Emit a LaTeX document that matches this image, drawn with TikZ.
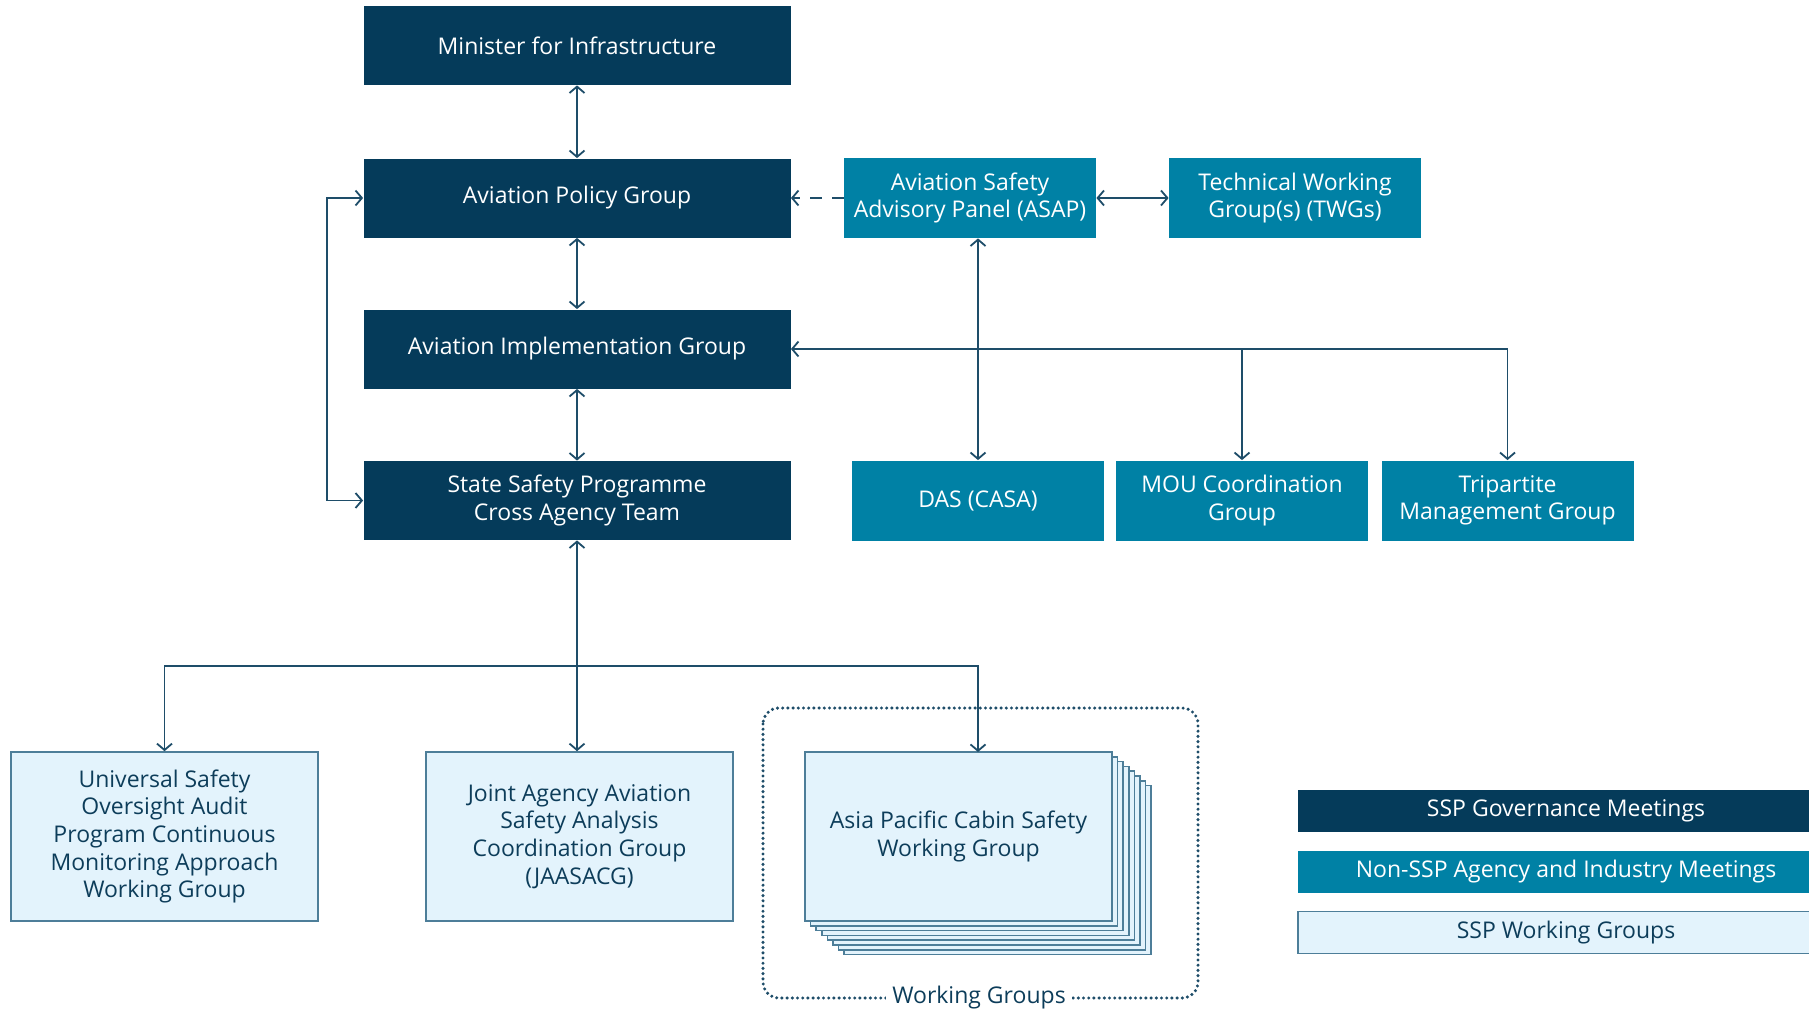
\documentclass[tikz,border=0pt]{standalone}
\usepackage{fontspec}
\setmainfont{Open Sans}
\usetikzlibrary{arrows.meta}
\definecolor{navy}{HTML}{053B5A}
\definecolor{tealb}{HTML}{0081A5}
\definecolor{lightb}{HTML}{E3F3FC}
\definecolor{edgec}{HTML}{4D7E99}
\definecolor{linec}{HTML}{1E4D69}
\definecolor{txtc}{HTML}{0D3D5A}
\begin{document}
\begin{tikzpicture}[x=0.5pt,y=-0.5pt,
  font=\fontsize{11.5}{13.8}\selectfont,
  >={Straight Barb[length=3.2pt,width=7.5pt]},
  gov/.style={fill=navy,text=white,minimum width=213.5pt,minimum height=39.5pt,align=center,inner sep=0pt},
  nonssp/.style={fill=tealb,text=white,minimum width=126pt,minimum height=40pt,align=center,inner sep=0pt},
  wgbox/.style={fill=lightb,draw=edgec,line width=0.8pt,text=txtc,minimum width=153.5pt,minimum height=84.5pt,align=center,inner sep=0pt},
  conn/.style={draw=linec,line width=0.9pt},
  legbox/.style={minimum width=268pt,minimum height=21pt,inner sep=0pt}
]
\useasboundingbox (0,0) rectangle (1809,1011);

% governance
\node[gov] (min) at (577,45.5) {Minister for Infrastructure};
\node[gov] (apg) at (577,198) {Aviation Policy Group};
\node[gov] (aig) at (577,349) {Aviation Implementation Group};
\node[gov] (ssp) at (577,500.5) {State Safety Programme\\Cross Agency Team};

% non-SSP
\node[nonssp] (asap) at (970,198) {Aviation Safety\\Advisory Panel (ASAP)};
\node[nonssp] (twg) at (1295,198) {Technical Working\\Group(s) (TWGs)};
\node[nonssp] (das) at (978,500.5) {DAS (CASA)};
\node[nonssp] (mou) at (1242,500.5) {MOU Coordination\\Group};
\node[nonssp] (tri) at (1507.5,500.5) {Tripartite\\Management Group};

% working groups
\node[wgbox] (uso) at (164.5,836.5) {Universal Safety\\Oversight Audit\\Program Continuous\\Monitoring Approach\\Working Group};
\node[wgbox] (jaa) at (579.5,836.5) {Joint Agency Aviation\\Safety Analysis\\Coordination Group\\(JAASACG)};
\foreach \i in {7,6,...,1}{
  \draw[fill=lightb,draw=edgec,line width=0.8pt] (805+5.6*\i,752+4.8*\i) rectangle ++(307,169);
}
\node[wgbox] (apc) at (958.5,836.5) {Asia Pacific Cabin Safety\\Working Group};

% dotted group frame
\draw[linec,line width=1.7pt,line cap=round,dash pattern=on 0pt off 2.6pt,rounded corners=8pt] (763,708) rectangle (1198,998);
\node[fill=white,text=txtc,inner sep=3pt] (wglabel) at (979,998) {Working Groups};

% connectors
\draw[conn,<->] (min.south) -- (apg.north);
\draw[conn,<->] (apg.south) -- (aig.north);
\draw[conn,<->] (aig.south) -- (ssp.north);
\draw[conn,<->] (apg.west) -- ++(-36,0) |- (ssp.west);
\draw[conn,->,dash pattern=on 6pt off 5pt] (asap.west) -- (apg.east);
\draw[conn,<->] (asap.east) -- (twg.west);
\draw[conn,<->] (das.north |- asap.south) -- (das.north);
\draw[conn,<->] (aig.east) -| (tri.north);
\draw[conn,->] (mou.north |- aig.east) -- (mou.north);

\coordinate (junc) at (579,666);
\coordinate (apcin) at (978,752);
\draw[conn,<->] (ssp.south) -- (ssp.south |- jaa.north);
\draw[conn,->] (junc) -| (uso.north);
\draw[conn,->] (junc) -| (apcin);

% legend
\node[legbox,fill=navy,text=white] (leg1) at (1566,811) {SSP Governance Meetings};
\node[legbox,fill=tealb,text=white] (leg2) at (1566,872) {Non-SSP Agency and Industry Meetings};
\node[legbox,fill=lightb,draw=edgec,line width=0.8pt,text=txtc] (leg3) at (1566,932.5) {SSP Working Groups};
\end{tikzpicture}
\end{document}
